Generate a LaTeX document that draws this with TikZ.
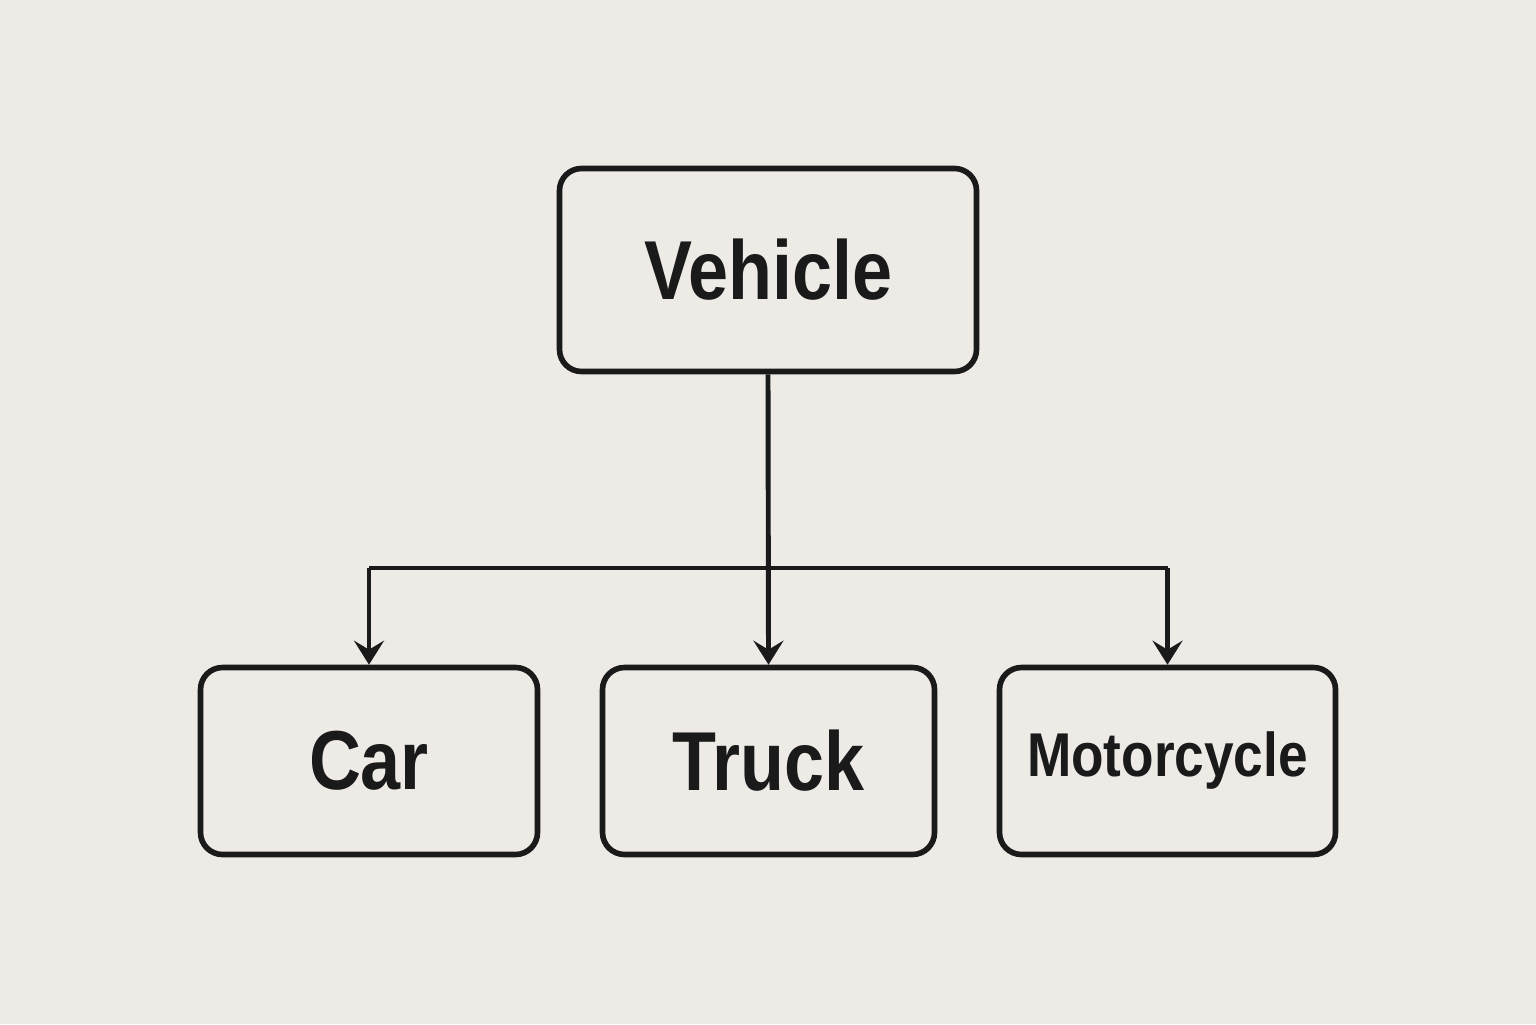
\documentclass[tikz,border=0pt]{standalone}
\usepackage{fontspec}
\newfontfamily\boxfont[FakeStretch=0.86]{Liberation Sans}
\usetikzlibrary{arrows.meta, positioning}
\definecolor{bgcol}{HTML}{EEEBE7}
\definecolor{inkcol}{HTML}{1A1A1A}

\begin{document}
\begin{tikzpicture}[
    box/.style={draw=inkcol, line width=1.6pt, rounded corners=0.22cm, text=inkcol,
        font=\boxfont\bfseries\fontsize{23.8}{26}\selectfont, minimum height=1.87cm},
    link/.style={draw=inkcol, line width=1.4pt},
    tip/.style={-{Stealth[length=0.24cm, width=0.3cm, inset=0.09cm]}}
]
    \fill[bgcol] (0,0) rectangle (15.36,10.24);
    \useasboundingbox (0,0) rectangle (15.36,10.24);

    % parent and children
    \node[box, minimum width=4.17cm, minimum height=2.03cm] (vehicle) at (7.68,7.54) {Vehicle};
    \node[box, minimum width=3.37cm] (car) at (3.69,2.63) {Car};
    \node[box, minimum width=3.32cm] (truck) at (7.685,2.63) {Truck};
    \node[box, minimum width=3.36cm, font=\boxfont\bfseries\fontsize{17.6}{20}\selectfont] (moto) at (11.675,2.63) {Motorcycle};

    \coordinate (split) at (7.68,4.56);

    % connectors
    \draw[link, tip] (vehicle.south) -- (truck.north);
    \draw[link] (car.north |- split) -- (moto.north |- split);
    \draw[link, tip] (car.north |- split) -- (car.north);
    \draw[link, tip] (moto.north |- split) -- (moto.north);
\end{tikzpicture}
\end{document}
